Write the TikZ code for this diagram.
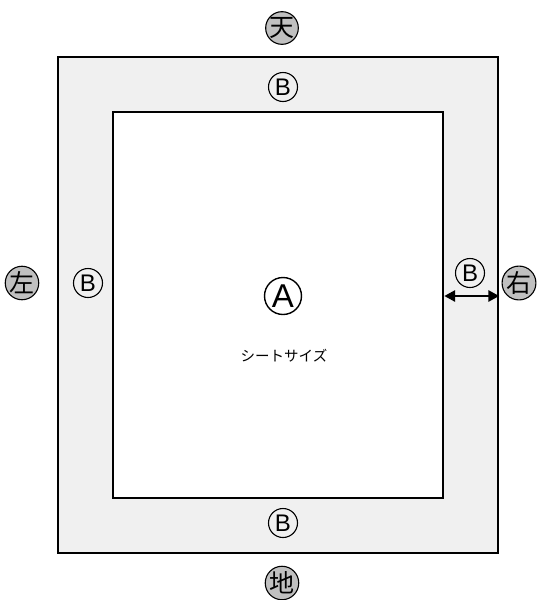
\documentclass[tikz,border=0pt]{standalone}
\usepackage{fontspec}
\setmainfont{Liberation Sans}
\newfontfamily\jp{Noto Sans CJK JP}
\usetikzlibrary{arrows.meta}
\definecolor{paper}{HTML}{F0F0F0}
\definecolor{kanjifill}{HTML}{C0C0C0}
\tikzset{
  frame/.style={draw=black, line width=2.6pt, fill=paper, inner sep=0pt},
  sheet/.style={draw=black, line width=2.4pt, fill=white, inner sep=0pt},
  circB/.style={circle, draw=black, line width=1.1pt, minimum size=29pt, inner sep=0pt, font=\fontsize{24}{24}\selectfont},
  circA/.style={circle, draw=black, line width=1.4pt, minimum size=37pt, inner sep=0pt, font=\fontsize{33}{33}\selectfont},
  circK/.style={circle, draw=black, line width=1.1pt, fill=kanjifill, minimum size=32pt, inner sep=0pt, font=\jp\fontsize{25}{25}\selectfont},
  label/.style={font=\jp\fontsize{14.5}{14.5}\selectfont},
  dimarrow/.style={line width=2.8pt, {Triangle[length=11pt,width=11pt]}-{Triangle[length=11pt,width=11pt]}}
}
\begin{document}
\begin{tikzpicture}[x=1pt,y=-1pt]
\useasboundingbox (0,0) rectangle (550,600);
\node[frame, minimum width=440pt, minimum height=496pt] (outer) at (278,305) {};
\node[sheet, minimum width=330pt, minimum height=386pt] (inner) at (278,305) {};
\node[circK] (ten) at (282,28) {天};
\node[circK] (hidari) at (22,283) {左};
\node[circK] (migi) at (519,283) {右};
\node[circK] (chi) at (282,583) {地};
\node[circB] (btop) at (283,87) {B};
\node[circB] (bleft) at (88,283) {B};
\node[circB] (bright) at (470,273) {B};
\node[circB] (bbottom) at (283,523) {B};
\node[circA] (a) at (283,296) {A};
\node[label] (size) at (284,356) {シートサイズ};
\coordinate (arr) at (470,296);
\draw[dimarrow] (inner.east |- arr) -- (outer.east |- arr);
\end{tikzpicture}
\end{document}
